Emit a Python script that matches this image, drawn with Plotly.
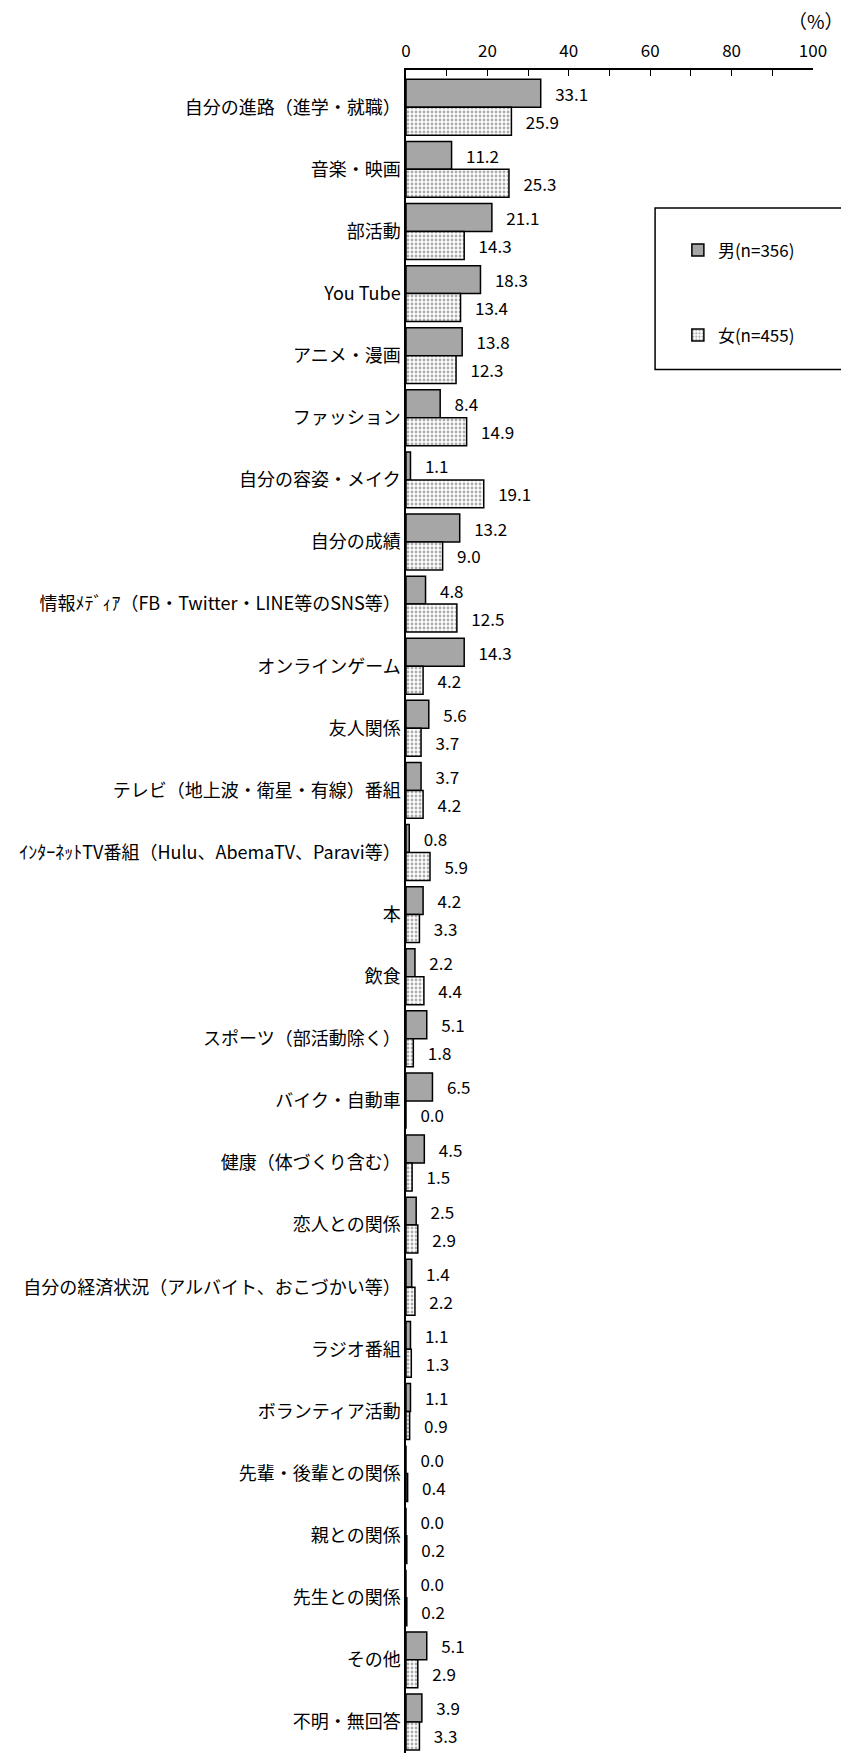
import plotly.graph_objects as go

categories = [
    "自分の進路（進学・就職）", "音楽・映画", "部活動", "You Tube", "アニメ・漫画",
    "ファッション", "自分の容姿・メイク", "自分の成績",
    "情報ﾒﾃﾞｨｱ（FB・Twitter・LINE等のSNS等）", "オンラインゲーム", "友人関係",
    "テレビ（地上波・衛星・有線）番組",
    "ｲﾝﾀｰﾈｯﾄTV番組（Hulu、AbemaTV、Paravi等）", "本", "飲食",
    "スポーツ（部活動除く）", "バイク・自動車", "健康（体づくり含む）", "恋人との関係",
    "自分の経済状況（アルバイト、おこづかい等）", "ラジオ番組", "ボランティア活動",
    "先輩・後輩との関係", "親との関係", "先生との関係", "その他", "不明・無回答",
]
male = [33.1, 11.2, 21.1, 18.3, 13.8, 8.4, 1.1, 13.2, 4.8, 14.3, 5.6, 3.7, 0.8,
        4.2, 2.2, 5.1, 6.5, 4.5, 2.5, 1.4, 1.1, 1.1, 0.0, 0.0, 0.0, 5.1, 3.9]
female = [25.9, 25.3, 14.3, 13.4, 12.3, 14.9, 19.1, 9.0, 12.5, 4.2, 3.7, 4.2, 5.9,
          3.3, 4.4, 1.8, 0.0, 1.5, 2.9, 2.2, 1.3, 0.9, 0.4, 0.2, 0.2, 2.9, 3.3]
series_names = ["男(n=356)", "女(n=455)"]

FONT = "Noto Sans CJK JP, sans-serif"
NBSP = "\u00a0"

fig = go.Figure()
fig.add_trace(go.Bar(
    name=series_names[0], y=categories, x=male, orientation="h",
    marker=dict(color="#a6a6a6", line=dict(color="black", width=1.5)),
    text=[f"{NBSP * 3}{v:.1f}" for v in male], textposition="outside",
    textfont=dict(size=17, color="black", family=FONT), cliponaxis=False,
    legendgroup="m",
))
fig.add_trace(go.Bar(
    name=series_names[1], y=categories, x=female, orientation="h",
    marker=dict(color="white", line=dict(color="black", width=1.5),
                pattern=dict(shape=".", fgcolor="#5a5a5a", bgcolor="white",
                             size=4, solidity=0.4)),
    text=[f"{NBSP * 3}{v:.1f}" for v in female], textposition="outside",
    textfont=dict(size=17, color="black", family=FONT), cliponaxis=False,
    legendgroup="f",
))

# page body adds an 8px margin, so the figure is 8px smaller than the window
fig.update_layout(
    width=841, height=1745,
    margin=dict(l=398, r=36, t=62, b=0),
    paper_bgcolor="white", plot_bgcolor="white",
    font=dict(family=FONT, size=16, color="black"),
    barmode="group", bargap=0.1, bargroupgap=0,
    showlegend=True,
    legend=dict(x=0.668, y=0.9035, xanchor="left", yanchor="top",
                tracegroupgap=60, font=dict(size=17),
                bgcolor="rgba(0,0,0,0)", borderwidth=0),
    xaxis=dict(side="top", range=[0, 100], dtick=20, showgrid=False,
               showline=True, linecolor="black", linewidth=1.5,
               ticks="inside", ticklen=6, tickcolor="black",
               minor=dict(dtick=10, ticks="inside", ticklen=6, tickcolor="black"),
               tickfont=dict(size=17), ticklabelstandoff=4, zeroline=False),
    yaxis=dict(range=[len(categories) - 0.5, -0.6], showline=True,
               linecolor="black", linewidth=1.5, showgrid=False, ticks="",
               ticklabelstandoff=0, tickfont=dict(size=18)),
    shapes=[dict(type="rect", xref="paper", yref="paper",
                 x0=0.612, x1=1.074, y0=0.822, y1=0.918,
                 line=dict(color="black", width=1.5), fillcolor="rgba(0,0,0,0)")],
    annotations=[dict(text="（%）", xref="paper", yref="paper", x=1.08, y=1.0,
                      yshift=50, xanchor="right", yanchor="middle",
                      showarrow=False, font=dict(size=19))],
)

fig.write_html("out.html")
